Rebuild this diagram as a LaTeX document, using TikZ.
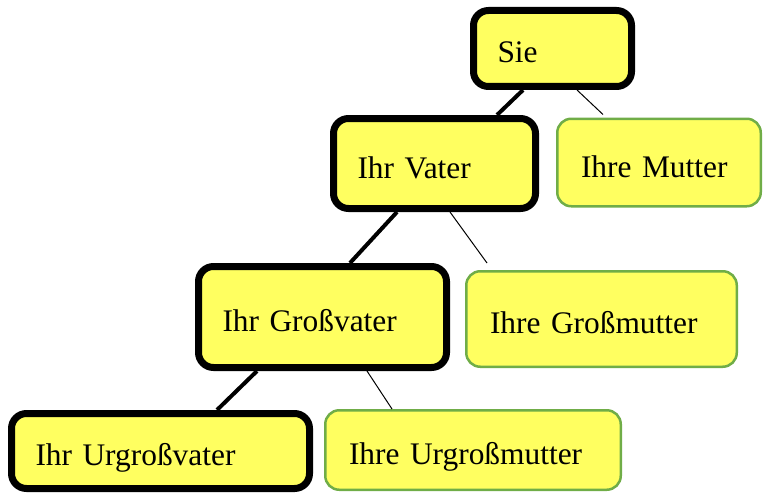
\documentclass[tikz,border=0pt]{standalone}
\usepackage{fontspec}
\setmainfont{Liberation Serif}
\definecolor{boxfill}{RGB}{255,255,96}
\definecolor{boxgreen}{RGB}{112,173,71}
\begin{document}
\begin{tikzpicture}[x=1pt,y=-1pt,
  person/.style={rectangle, fill=boxfill, align=left, inner ysep=0pt,
    text height=29pt, text depth=0pt,
    font=\fontsize{31.4}{38}\selectfont},
  paternal/.style={person, draw=black, line width=7pt, rounded corners=15pt,
    inner xsep=24pt},
  maternal/.style={person, draw=boxgreen, line width=2.5pt, rounded corners=14pt,
    inner xsep=23.75pt},
  strongline/.style={draw=black, line width=4pt},
  weakline/.style={draw=black, line width=1pt}]
\useasboundingbox (0,0) rectangle (767,492);

% paternal line
\node[paternal, text width=110pt, minimum width=158pt, minimum height=76pt]  (sie)   at (552.5,48.5) {Sie};
\node[paternal, text width=154pt, minimum width=202pt, minimum height=90pt]  (vater) at (434.5,163.5) {Ihr Vater};
\node[paternal, text width=200pt, minimum width=248pt, minimum height=101pt] (gv)    at (322.5,317) {Ihr Großvater};
\node[paternal, text width=250pt, minimum width=298pt, minimum height=75pt]  (ugv)   at (160.5,451) {Ihr Urgroßvater};

% maternal side
\node[maternal, text width=156pt, minimum width=203.5pt, minimum height=87.5pt] (mutter) at (659,162.5) {Ihre Mutter};
\node[maternal, text width=223pt, minimum width=270.5pt, minimum height=95.5pt] (gm)     at (601.5,319) {Ihre Großmutter};
\node[maternal, text width=248pt, minimum width=295.5pt, minimum height=79.5pt] (ugm)    at (473,450) {Ihre Urgroßmutter};

% connectors
\draw[strongline] ([xshift=-29.5pt]sie.south) -- ([xshift=62.5pt]vater.north);
\draw[weakline]   ([xshift=24.5pt]sie.south) -- ([xshift=-56pt,yshift=3pt]mutter.north);
\draw[strongline] ([xshift=-37.5pt]vater.south) -- ([xshift=27.5pt]gv.north);
\draw[weakline]   ([xshift=15.5pt]vater.south) -- ([xshift=-114.5pt,yshift=7pt]gm.north);
\draw[strongline] ([xshift=-65.5pt]gv.south) -- ([xshift=56.5pt]ugv.north);
\draw[weakline]   ([xshift=44.5pt]gv.south) -- ([xshift=-81pt]ugm.north);
\end{tikzpicture}
\end{document}
